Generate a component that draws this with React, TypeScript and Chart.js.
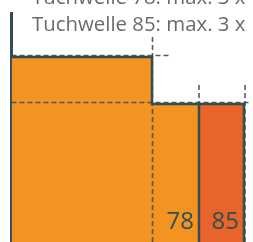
import React, { useEffect, useRef } from "react";
import { Chart, registerables } from "chart.js";

Chart.register(...registerables);

// ---- data ----
const headerLines = ["Tuchwelle 78: max. 3 x", "Tuchwelle 85: max. 3 x"];
const barCategories = ["78", "85"];
const blockEnd = 140.5;
const blockHeight = 185;
const barEnds = [187.5, 232.5];
const barHeights = [138, 138];
const guideLevels = [186.5, 139.5];
const guideLevelEnds = [160, 239];
const guideXs = [141, 187.5, 233.5];
const guideXTops = [205, 157, 157];

const ORANGE = "#F39422";
const RED = "#E9642A";
const DARK = "#2F4E54";
const GUIDE = "rgba(62,76,80,0.9)";

export default function App() {
  const ref = useRef<HTMLCanvasElement | null>(null);

  useEffect(() => {
    if (!ref.current) return;

    const labelPlugin = {
      id: "barLabels",
      afterDatasetsDraw(chart: any) {
        const ctx = chart.ctx;
        const xs = chart.scales.x;
        const area = chart.chartArea;
        ctx.save();
        ctx.font = "24px 'Open Sans'";
        ctx.fillStyle = DARK;
        ctx.textAlign = "right";
        ctx.textBaseline = "alphabetic";
        barCategories.forEach((c, i) => {
          const x = xs.getPixelForValue(barEnds[i]) - 5;
          ctx.fillText(c, x, area.bottom - 13);
        });
        ctx.restore();
      },
    };

    const headerPlugin = {
      id: "header",
      afterDraw(chart: any) {
        const ctx = chart.ctx;
        ctx.save();
        ctx.font = "20.4px 'Open Sans'";
        ctx.fillStyle = "#6A6A6A";
        ctx.textAlign = "left";
        ctx.textBaseline = "alphabetic";
        headerLines.forEach((t, i) => {
          ctx.fillText(t, 32, 3.5 + i * 27.5);
        });
        ctx.restore();
      },
    };

    const guideDatasets: any[] = [];
    guideLevels.forEach((lv, i) => {
      guideDatasets.push({
        data: [
          { x: 0, y: lv },
          { x: guideLevelEnds[i], y: lv },
        ],
        borderColor: GUIDE,
        borderWidth: 1.6,
        borderDash: [5, 3],
        pointRadius: 0,
        fill: false,
      });
    });
    guideXs.forEach((gx, i) => {
      guideDatasets.push({
        data: [
          { x: gx, y: guideXTops[i] },
          { x: gx, y: 0 },
        ],
        borderColor: GUIDE,
        borderWidth: 1.6,
        borderDash: [5, 3],
        pointRadius: 0,
        fill: false,
      });
    });

    const chart = new Chart(ref.current, {
      type: "line",
      data: {
        datasets: [
          ...guideDatasets,
          {
            data: [
              { x: 0, y: blockHeight },
              { x: blockEnd, y: blockHeight },
              { x: blockEnd, y: barHeights[0] },
              { x: barEnds[0], y: barHeights[0] },
              { x: barEnds[0], y: 0 },
            ],
            backgroundColor: ORANGE,
            borderColor: DARK,
            borderWidth: 2.5,
            pointRadius: 0,
            fill: "origin",
          },
          {
            data: [
              { x: barEnds[0], y: barHeights[1] },
              { x: barEnds[1], y: barHeights[1] },
              { x: barEnds[1], y: 0 },
            ],
            backgroundColor: RED,
            borderColor: DARK,
            borderWidth: 2.5,
            pointRadius: 0,
            fill: "origin",
          },
        ],
      },
      options: {
        animation: false,
        responsive: false,
        events: [],
        layout: { padding: { left: 11.5, top: 13, right: 0, bottom: 0 } },
        plugins: {
          legend: { display: false },
          tooltip: { enabled: false },
          title: { display: false },
        },
        scales: {
          x: { type: "linear", min: 0, max: 241.5, display: false },
          y: {
            type: "linear",
            min: 0,
            max: 229,
            z: 1,
            ticks: { display: false },
            grid: { display: false, drawTicks: false },
            border: { display: true, color: DARK, width: 3 },
          },
        },
      },
      plugins: [labelPlugin, headerPlugin],
    });

    return () => chart.destroy();
  }, []);

  return (
    <div style={{ position: "fixed", left: 0, top: 0, width: 253, height: 242, background: "#fff" }}>
      <canvas ref={ref} width={253} height={242} style={{ display: "block" }} />
    </div>
  );
}
